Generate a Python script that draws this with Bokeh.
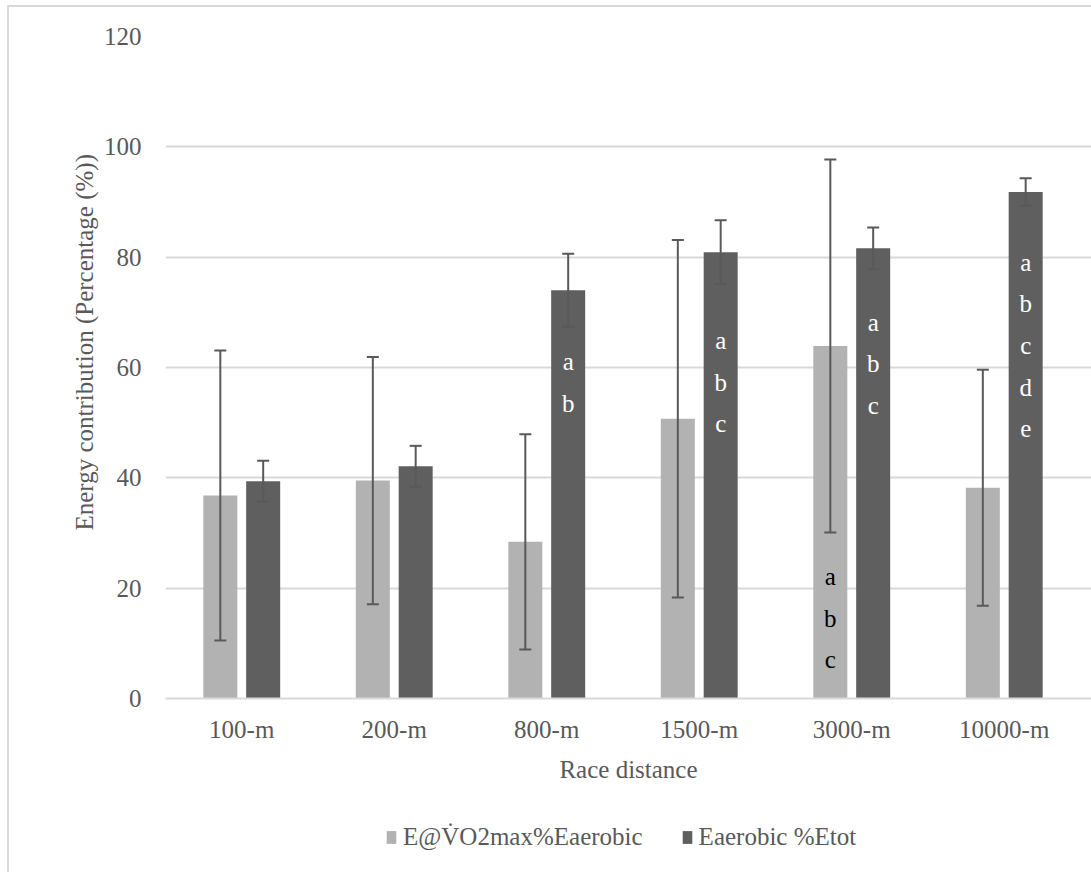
from bokeh.plotting import figure
from bokeh.layouts import column
from bokeh.models import (ColumnDataSource, Whisker, TeeHead, Legend, LegendItem,
                          FixedTicker, Range1d, Title)
from bokeh.transform import dodge
from bokeh.embed import file_html
from bokeh.resources import INLINE
from bokeh.core.properties import value

# ---------------- data ----------------
categories = ["100-m", "200-m", "800-m", "1500-m", "3000-m", "10000-m"]
series_names = ["E@V\u0307O2max%Eaerobic", "Eaerobic %Etot"]

vo2_mean = [36.8, 39.5, 28.4, 50.7, 63.9, 38.2]
vo2_sd = [26.3, 22.4, 19.5, 32.4, 33.8, 21.4]
aer_mean = [39.4, 42.1, 74.0, 80.9, 81.6, 91.8]
aer_sd = [3.7, 3.7, 6.6, 5.8, 3.8, 2.5]

y_ticks = [0, 20, 40, 60, 80, 100, 120]

# significance letters: category, series index, letters, baseline of first letter (data units)
annot_cats = ["800-m", "1500-m", "3000-m", "3000-m", "10000-m"]
annot_series = [1, 1, 1, 0, 1]
annot_letters = ["ab", "abc", "abc", "abc", "abcde"]
annot_first = [61.0, 64.9, 68.2, 22.1, 79.1]
annot_step = 7.56

# ---------------- styling ----------------
FONT = "Liberation Serif"
LEG_FONT = "'Liberation Serif', serif"
TXT = "#595959"
GRID = "#D9D9D9"
LIGHT = "#B2B2B2"
DARK = "#5F5F5F"
ERR = "#595959"
BAR_W = 0.223
OFFS = [-0.1405, 0.1405]

FW, FH = 926, 662
ML, MT, MB = 156, 29, 110
LEG_H = 64
cat_px = 152.5
x_end = FW / cat_px

xpos = [i + 0.5 for i in range(len(categories))]
src = ColumnDataSource(dict(
    x=xpos,
    vo2=vo2_mean,
    vo2_lo=[m - s for m, s in zip(vo2_mean, vo2_sd)],
    vo2_hi=[m + s for m, s in zip(vo2_mean, vo2_sd)],
    aer=aer_mean,
    aer_lo=[m - s for m, s in zip(aer_mean, aer_sd)],
    aer_hi=[m + s for m, s in zip(aer_mean, aer_sd)],
))

p = figure(frame_width=FW, frame_height=FH, output_backend="svg", toolbar_location=None,
           x_range=Range1d(0, x_end), y_range=Range1d(0, 120),
           min_border_left=ML, min_border_right=0, min_border_top=MT,
           min_border_bottom=MB)
p.outline_line_color = None
p.background_fill_color = "white"
p.border_fill_color = "white"

r_light = p.vbar(x=dodge("x", OFFS[0]), top="vo2", width=BAR_W, source=src,
                 fill_color=LIGHT, line_color=None)
r_dark = p.vbar(x=dodge("x", OFFS[1]), top="aer", width=BAR_W, source=src,
                fill_color=DARK, line_color=None)

for off, lo, hi in [(OFFS[0], "vo2_lo", "vo2_hi"), (OFFS[1], "aer_lo", "aer_hi")]:
    w = Whisker(base=dodge("x", off), lower=lo, upper=hi, source=src,
                line_color=ERR, line_width=2, level="annotation",
                upper_head=TeeHead(size=12, line_color=ERR, line_width=2),
                lower_head=TeeHead(size=12, line_color=ERR, line_width=2))
    p.add_layout(w)

# letters
tx, ty, tt, tc = [], [], [], []
for cat, s, letters, first in zip(annot_cats, annot_series, annot_letters, annot_first):
    xc = categories.index(cat) + 0.5 + OFFS[s]
    for k, ch in enumerate(letters):
        tx.append(xc)
        ty.append(first - k * annot_step)
        tt.append(ch)
        tc.append("white" if s == 1 else "black")
p.text(x=tx, y=ty, text=tt, text_color=tc, text_font=value(FONT),
       text_font_size="25px", text_align="center", text_baseline="alphabetic")

# axes
p.xgrid.visible = False
p.ygrid.grid_line_color = GRID
p.ygrid.grid_line_width = 2
p.yaxis.ticker = FixedTicker(ticks=y_ticks)
p.xaxis.ticker = FixedTicker(ticks=xpos)
p.xaxis.major_label_overrides = {x: c for x, c in zip(xpos, categories)}

for ax in (p.xaxis[0], p.yaxis[0]):
    ax.major_tick_line_color = None
    ax.minor_tick_line_color = None
    ax.major_label_text_font = FONT
    ax.major_label_text_font_size = "25px"
    ax.major_label_text_color = TXT
    ax.axis_label_text_font = FONT
    ax.axis_label_text_font_size = "25px"
    ax.axis_label_text_color = TXT
    ax.axis_label_text_font_style = "normal"

p.yaxis.axis_line_color = None
p.yaxis.major_label_standoff = 18

ytitle = Title(text="Energy contribution (Percentage (%))", align="left",
               offset=168, standoff=6, text_font=FONT, text_font_size="25px",
               text_color=TXT, text_font_style="normal")
p.add_layout(ytitle, "left")

p.xaxis.axis_line_color = GRID
p.xaxis.axis_line_width = 2
p.xaxis.major_label_standoff = 11
p.xaxis.axis_label = "Race distance"
p.xaxis.axis_label_standoff = 10

# legend strip below the chart (its own small plot, bars lie outside its y range)
pl = figure(width=ML + FW, height=LEG_H, output_backend="svg", toolbar_location=None,
            x_range=Range1d(0, x_end), y_range=Range1d(1000, 1001),
            x_axis_location=None, y_axis_location=None,
            min_border_left=0, min_border_right=0, min_border_top=0,
            min_border_bottom=0)
pl.outline_line_color = None
pl.xgrid.visible = False
pl.ygrid.visible = False
l_light = pl.vbar(x=dodge("x", OFFS[0]), top="vo2", width=BAR_W, source=src,
                  fill_color=LIGHT, line_color=None)
l_dark = pl.vbar(x=dodge("x", OFFS[1]), top="aer", width=BAR_W, source=src,
                 fill_color=DARK, line_color=None)
legend = Legend(items=[LegendItem(label=series_names[0], renderers=[l_light]),
                       LegendItem(label=series_names[1], renderers=[l_dark])],
                orientation="horizontal", location=(220, 21),
                label_text_font=LEG_FONT, label_text_font_size="25px",
                label_text_color=TXT, glyph_width=12, glyph_height=16,
                label_standoff=6, spacing=38, border_line_color=None,
                background_fill_alpha=0, margin=0, padding=0)
pl.add_layout(legend)

layout = column(p, pl, spacing=0,
                styles={"margin-left": "7px", "margin-top": "5px",
                        "border-top": "2px solid #D9D9D9",
                        "border-left": "2px solid #D9D9D9"})

open("out.html", "w").write(file_html(layout, INLINE))
